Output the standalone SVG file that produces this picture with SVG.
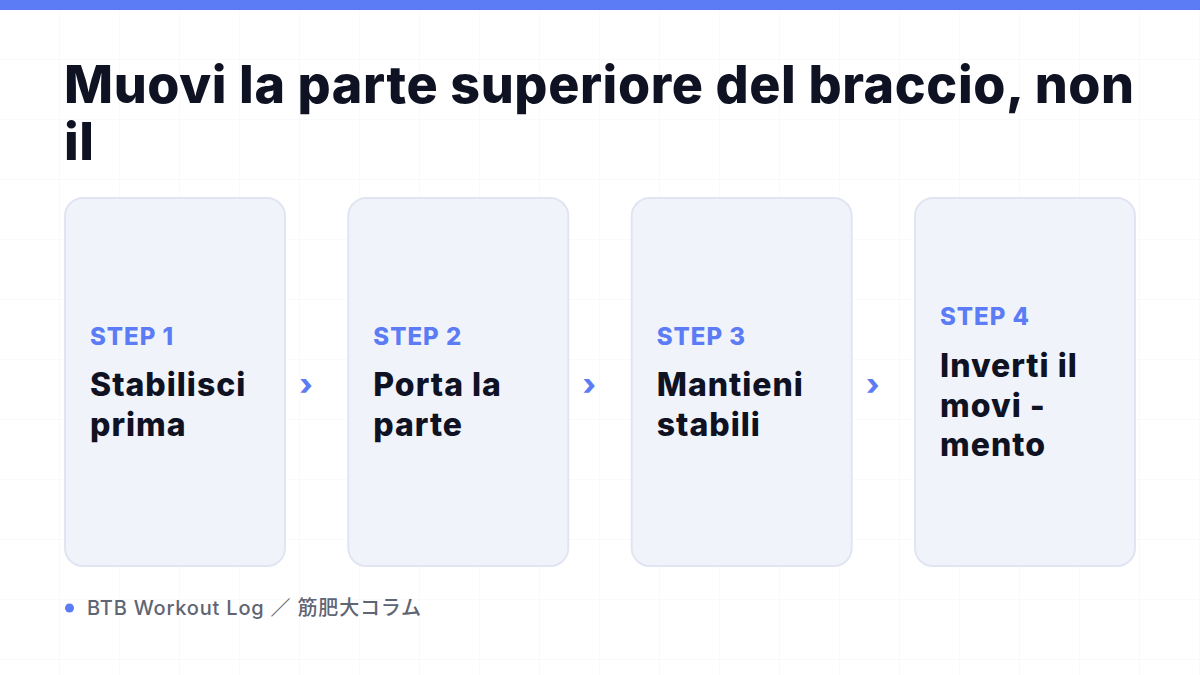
<svg xmlns="http://www.w3.org/2000/svg" width="1200" height="675" viewBox="0 0 1200 675">
  <defs>
    <pattern id="grid" width="60" height="60" patternUnits="userSpaceOnUse">
      <path d="M60 0 V60 M0 60 H60" fill="none" stroke="#f3f4f7" stroke-width="1"/>
    </pattern>
  </defs>
  <style>
    .title { font-family: Inter, "Noto Sans", "Liberation Sans", sans-serif; font-weight: 800; font-size: 52px; letter-spacing: 0.6px; fill: #0f1222; }
    .card { fill: #f1f3fb; stroke: #e1e5f1; stroke-width: 2; }
    .step { font-family: Inter, "Noto Sans", "Liberation Sans", sans-serif; font-weight: 800; font-size: 24px; letter-spacing: 1px; fill: #5b7cf5; }
    .label { font-family: Inter, "Noto Sans", "Liberation Sans", sans-serif; font-weight: 800; font-size: 32px; letter-spacing: 1px; fill: #0f1222; }
    .arrow { font-family: Inter, "Noto Sans", "Liberation Sans", sans-serif; font-weight: 800; font-size: 30px; fill: #5b7cf5; }
    .footer { font-family: Inter, "Noto Sans CJK JP", "Noto Sans", sans-serif; font-weight: 500; font-size: 20px; letter-spacing: 0.8px; fill: #5f6573; }
  </style>
  <rect x="0" y="0" width="1200" height="675" fill="#ffffff"/>
  <rect x="0" y="0" width="1200" height="675" fill="url(#grid)"/>
  <rect x="0" y="0" width="1200" height="10" fill="#5b7cf5"/>

  <g id="title">
    <text class="title" x="64" y="103">Muovi la parte superiore del braccio, non</text>
    <text class="title" x="64" y="160">il</text>
  </g>

  <g id="step1">
    <rect class="card" x="65" y="198" width="220" height="368" rx="18"/>
    <text class="step" x="90" y="345">STEP 1</text>
    <text class="label" x="90" y="396">Stabilisci</text>
    <text class="label" x="90" y="436">prima</text>
  </g>
  <g id="step2">
    <rect class="card" x="348.3" y="198" width="220" height="368" rx="18"/>
    <text class="step" x="373.3" y="345">STEP 2</text>
    <text class="label" x="373.3" y="396">Porta la</text>
    <text class="label" x="373.3" y="436">parte</text>
  </g>
  <g id="step3">
    <rect class="card" x="631.7" y="198" width="220" height="368" rx="18"/>
    <text class="step" x="656.7" y="345">STEP 3</text>
    <text class="label" x="656.7" y="396">Mantieni</text>
    <text class="label" x="656.7" y="436">stabili</text>
  </g>
  <g id="step4">
    <rect class="card" x="915" y="198" width="220" height="368" rx="18"/>
    <text class="step" x="940" y="325">STEP 4</text>
    <text class="label" x="940" y="377">Inverti il</text>
    <text class="label" x="940" y="417">movi -</text>
    <text class="label" x="940" y="456">mento</text>
  </g>

  <g id="connectors">
    <text class="arrow" x="306" y="395" text-anchor="middle">›</text>
    <text class="arrow" x="589.3" y="395" text-anchor="middle">›</text>
    <text class="arrow" x="872.7" y="395" text-anchor="middle">›</text>
  </g>

  <g id="footer">
    <circle cx="69.5" cy="608" r="4.5" fill="#5b7cf5"/>
    <text class="footer" x="87" y="615">BTB Workout Log ／ 筋肥大コラム</text>
  </g>
</svg>
